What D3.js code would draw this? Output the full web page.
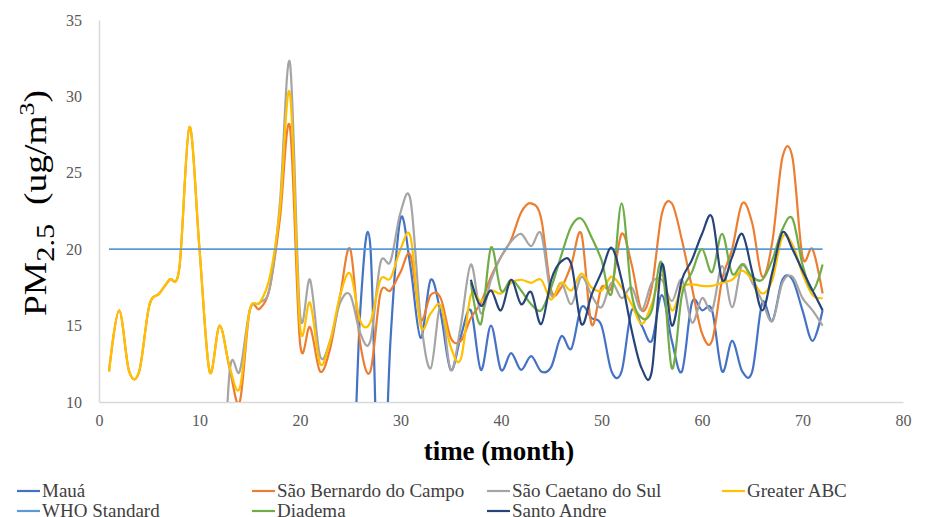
<!DOCTYPE html>
<html>
<head>
<meta charset="utf-8">
<script src="https://d3js.org/d3.v7.min.js"></script>
<style>
  html, body { margin: 0; padding: 0; background: #fff; }
  svg { display: block; }
  svg text { font-family: "Liberation Serif", "Times New Roman", "DejaVu Serif", serif !important; }
</style>
</head>
<body>
<div id="chart"></div>
<script>
// monthly PM2.5, months 1..72 (0 = missing in source sheet, null = no series yet)
const months = d3.range(1, 73);

const maua = [
  0, 0, 0, 0, 0, 0, 0, 0, 0, 0, 0, 0, 0, 0, 0, 0, 0, 0, 0, 0, 0, 0, 0, 0, 0,
  16, 20.2, 0, 14, 22, 18.8, 14.2, 18, 15.8, 12.1, 14.3, 16, 12.1, 15, 12.1,
  13.2, 12.1, 13, 12, 12.3, 14.3, 13.5, 16.2, 15.5, 15, 12, 12, 16, 15, 14,
  17, 14, 12, 16.5, 16, 16, 12, 14, 12, 12, 16.5, 15.3, 18, 18, 16, 14, 16
];
const saoBernardo = [
  12, 16, 12, 12, 16.3, 17.1, 18, 18.8, 28, 20, 12, 15, 12.2, 10, 16, 16.1, 17.5, 22, 28, 13.9,
  14.9, 12, 13.5, 17, 20, 13.8, 12, 17.1, 17.3, 18.5, 19.6, 15.4, 17, 16.8, 14.2, 14, 15.5, 16.5, 18.2, 19.5,
  20.6, 22.4, 23, 22, 17.3, 17.5, 19, 21, 15.1, 17.5, 17.5, 21, 19, 16, 17.5, 22.3, 23, 20.6, 17.5, 14.5,
  14, 18, 20, 23, 21.7, 18.2, 20.5, 26, 26, 19.5, 20, 17.1
];
const saoCaetano = [
  0, 0, 0, 0, 0, 0, 0, 0, 0, 0, 0, 0, 12, 12, 16, 16.5, 17.5, 23, 32.2, 15.8,
  18, 13, 14, 16.5, 17, 14.5, 14, 19.1, 19.2, 22.4, 23.2, 15.5, 12.2, 16.3, 12.1, 15, 19, 15.8, 18, 19.5,
  20.5, 21, 20.2, 21, 17, 17.8, 16.4, 18.2, 17, 16.2, 17.8, 16.8, 17.5, 16, 17.8, 18, 16.6, 18, 15.2, 16.8,
  16, 18.9, 16.2, 19, 17.8, 16.6, 15.3, 17.8, 18.2, 16.8, 16, 15
];
const greaterABC = [
  12, 16, 12, 12, 16.3, 17.1, 18, 18.8, 28, 20, 12, 15, 12.3, 10.9, 16, 16.5, 18.2, 22.6, 30.2, 15,
  16.5, 12.5, 14, 17, 18.4, 15.3, 15.2, 18, 18.1, 20, 20.8, 15, 15.8, 16.3, 13.6, 12.8, 17, 16.6, 17.3, 17.1,
  17.8, 18, 17.8, 18, 16.7, 17.8, 17.3, 18.4, 17.5, 17.3, 18.2, 17.5, 16.4, 15.1, 16.4, 18.3, 16, 17.5, 17.7, 17.6,
  17.6, 17.8, 18, 18.6, 18, 17.1, 18, 20.8, 20.3, 18.4, 17, 16.8
];
const whoStandard = [
  20, 20, 20, 20, 20, 20, 20, 20, 20, 20, 20, 20, 20, 20, 20, 20, 20, 20, 20, 20,
  20, 20, 20, 20, 20, 20, 20, 20, 20, 20, 20, 20, 20, 20, 20, 20, 20, 20, 20, 20,
  20, 20, 20, 20, 20, 20, 20, 20, 20, 20, 20, 20, 20, 20, 20, 20, 20, 20, 20, 20,
  20, 20, 20, 20, 20, 20, 20, 20, 20, 20, 20, 20
];
const diadema = [
  null, null, null, null, null, null, null, null, null, null, null, null,
  null, null, null, null, null, null, null, null, null, null, null, null,
  null, null, null, null, null, null, null, null, null, null, null, null,
  17.8, 15.1, 20.1, 17.3, 18, 17.3, 16.4, 16, 17.5, 19.6, 21.5, 22, 20.8, 19.3, 17.1, 23, 17.1, 15.5, 16,
  19.1, 12.2, 17, 18.5, 20, 18.5, 21, 18.4, 19, 18.2, 18, 19.3, 21.3, 22, 19, 17.3, 19
];
const santoAndre = [
  null, null, null, null, null, null, null, null, null, null, null, null,
  null, null, null, null, null, null, null, null, null, null, null, null,
  null, null, null, null, null, null, null, null, null, null, null, null,
  18, 16.3, 17.3, 16, 18, 16.4, 17.2, 15.1, 18, 19.2, 19, 15.1, 17, 18.5, 20.1, 18, 14.7, 12.2, 12,
  19, 15, 18, 19.3, 21, 22.1, 18, 19.5, 21, 18.5, 16, 18.5, 21.1, 20, 18.6, 17.3, 16
];

const seriesNames = ['Mauá', 'São Bernardo do Campo', 'São Caetano do Sul', 'Greater ABC',
                     'WHO Standard', 'Diadema', 'Santo Andre'];
const seriesValues = [maua, saoBernardo, saoCaetano, greaterABC, whoStandard, diadema, santoAndre];
const seriesColors = ['#4472C4', '#ED7D31', '#A5A5A5', '#FFC000', '#5B9BD5', '#70AD47', '#264478'];

const xTicks = [0, 10, 20, 30, 40, 50, 60, 70, 80];
const yTicks = [10, 15, 20, 25, 30, 35];

const width = 947, height = 517;
const margin = {top: 20, right: 44, bottom: 115, left: 99};
const serif = '"Liberation Serif", "Times New Roman", serif';

const svg = d3.select('#chart').append('svg')
    .attr('width', width)
    .attr('height', height);

svg.append('rect').attr('width', width).attr('height', height).attr('fill', '#fff');

const x = d3.scaleLinear().domain([0, 80]).range([margin.left, width - margin.right]);
const y = d3.scaleLinear().domain([10, 35]).range([height - margin.bottom, margin.top]);

svg.append('defs').append('clipPath').attr('id', 'plot-clip')
  .append('rect')
    .attr('x', margin.left)
    .attr('y', margin.top - 10)
    .attr('width', width - margin.left - margin.right)
    .attr('height', height - margin.bottom - margin.top + 10);

// axes
const xAxis = svg.append('g')
    .attr('transform', `translate(0, ${height - margin.bottom})`)
    .call(d3.axisBottom(x).tickValues(xTicks).tickSize(0).tickPadding(13));
const yAxis = svg.append('g')
    .attr('transform', `translate(${margin.left}, 0)`)
    .call(d3.axisLeft(y).tickValues(yTicks).tickSize(0).tickPadding(17));

[xAxis, yAxis].forEach(g => {
  g.attr('font-family', serif);
  g.select('.domain').attr('stroke', '#d9d9d9').attr('stroke-width', 1.5);
  g.selectAll('text')
    .attr('fill', '#595959')
    .attr('font-size', 16)
    .style('font-family', serif);
});

// lines
const line = d3.line()
    .defined(d => d[1] != null)
    .x(d => x(d[0]))
    .y(d => y(d[1]))
    .curve(d3.curveCardinal);

const plot = svg.append('g').attr('clip-path', 'url(#plot-clip)');
seriesValues.forEach((vals, i) => {
  plot.append('path')
    .datum(months.map((m, j) => [m, vals[j]]))
    .attr('fill', 'none')
    .attr('stroke', seriesColors[i])
    .attr('stroke-width', i === 4 ? 1.8 : 2.2)
    .attr('stroke-linejoin', 'round')
    .attr('d', line);
});

// axis titles
svg.append('text')
    .attr('x', 499)
    .attr('y', 460)
    .attr('text-anchor', 'middle')
    .attr('font-size', 27)
    .attr('font-weight', 'bold')
    .attr('fill', '#000')
    .style('font-family', serif)
    .text('time (month)');

const yTitle = svg.append('text')
    .attr('transform', 'translate(46, 203) rotate(-90)')
    .attr('text-anchor', 'middle')
    .attr('font-size', 32)
    .attr('textLength', 226)
    .attr('lengthAdjust', 'spacingAndGlyphs')
    .attr('fill', '#000')
    .style('font-family', serif);
yTitle.append('tspan').text('PM');
yTitle.append('tspan').attr('font-size', 26).attr('dy', 8).text('2.5');
yTitle.append('tspan').attr('dy', -8).text('\u00a0\u00a0(ug/m');
yTitle.append('tspan').attr('font-size', 22).attr('dy', -12).text('3');
yTitle.append('tspan').attr('dy', 12).text(')');

// legend
const legendPos = [[17, 491], [252, 491], [487, 491], [722, 491], [17, 511], [252, 511], [487, 511]];
const legend = svg.append('g');
seriesNames.forEach((name, i) => {
  const [lx, ly] = legendPos[i];
  legend.append('line')
    .attr('x1', lx).attr('x2', lx + 23)
    .attr('y1', ly).attr('y2', ly)
    .attr('stroke', seriesColors[i])
    .attr('stroke-width', 2.2);
  legend.append('text')
    .attr('x', lx + 25)
    .attr('y', ly + 6)
    .attr('font-size', 19)
    .attr('fill', '#404040')
    .style('font-family', serif)
    .text(name);
});
</script>
</body>
</html>
